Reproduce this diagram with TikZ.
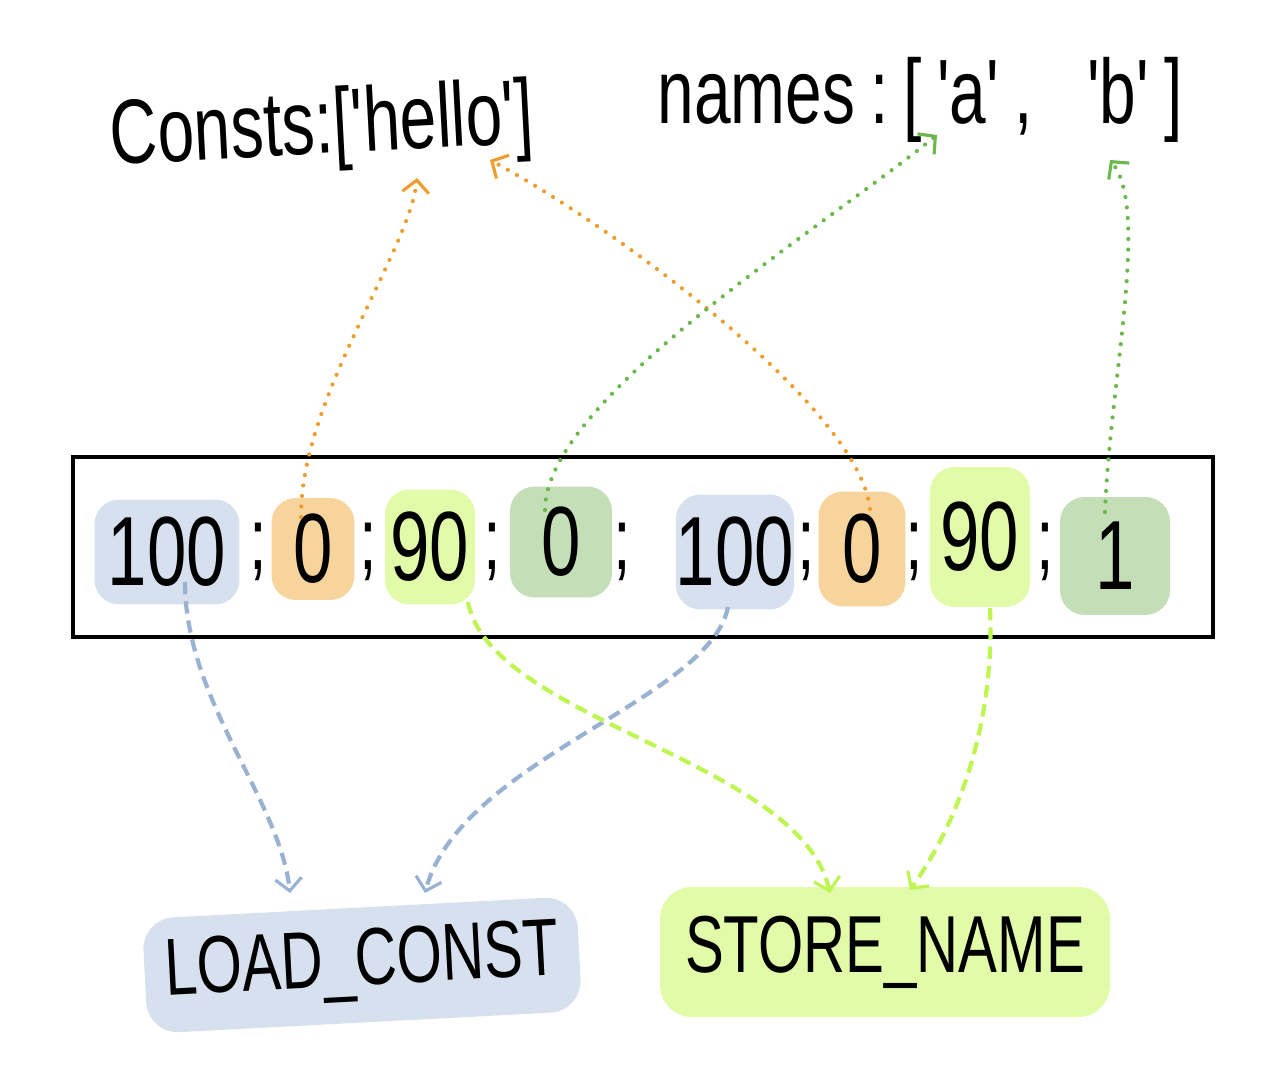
\documentclass[tikz,border=0pt]{standalone}
\usepackage{fontspec}
\newfontfamily\handfont[FakeStretch=0.72]{Liberation Sans}
\usetikzlibrary{arrows.meta,calc}

\definecolor{blobblue}{HTML}{D6E0EE}
\definecolor{bloborange}{HTML}{F6D49B}
\definecolor{bloblime}{HTML}{E1FBA9}
\definecolor{blobgreen}{HTML}{C4DFB8}
\definecolor{linkorange}{HTML}{EE9E2E}
\definecolor{linkgreen}{HTML}{6DB84C}
\definecolor{linkblue}{HTML}{9AB2D2}
\definecolor{linklime}{HTML}{BEF552}

\tikzset{
  blob/.style={rounded corners=14pt, inner sep=0pt, font=\handfont\fontsize{56}{60}\selectfont},
  semi/.style={inner sep=0pt, font=\handfont\fontsize{50}{54}\selectfont},
  opname/.style={rounded corners=18pt, inner sep=0pt, font=\handfont\fontsize{46}{50}\selectfont},
  toplabel/.style={inner sep=0pt, font=\handfont\fontsize{52}{56}\selectfont},
  dotlink/.style={draw=#1, line width=2.4pt, line cap=round, dash pattern=on 0pt off 6pt,
    -{Straight Barb[length=7pt,width=15pt,line width=1.8pt]}},
  dashlink/.style={draw=#1, line width=2.4pt, dash pattern=on 7pt off 4pt,
    -{Straight Barb[length=7pt,width=15pt,line width=1.8pt]}}
}

\begin{document}
\begin{tikzpicture}[x=0.02cm,y=-0.02cm]
    \useasboundingbox (0,0) rectangle (1276,1084);

    % constant and name tables
    \node[toplabel, rotate=3] (consts) at (322,130) {Consts:['hello']};
    \node[toplabel] (names) at (920,100) {names\,:\,[\,'a'\,,\ \ \ 'b'\,]};
    \coordinate (helloA) at (417,178);
    \coordinate (helloB) at (490,160);
    \coordinate (nameA) at (937,135);
    \coordinate (nameB) at (1110,160);

    % bytecode strip
    \node[draw, line width=2.5pt, minimum width=22.8cm, minimum height=3.6cm] (code) at (643,547) {};
    \node[blob, fill=blobblue, minimum width=2.9cm, minimum height=2.1cm] (b100a) at (167,552) {100};
    \node[blob, fill=bloborange, minimum width=1.66cm, minimum height=2.04cm] (o0a) at (313,549) {0};
    \node[blob, fill=bloblime, minimum width=1.8cm, minimum height=2.3cm] (g90a) at (430,547) {90};
    \node[blob, fill=blobgreen, minimum width=2.04cm, minimum height=2.22cm] (d0a) at (561,542) {0};
    \node[blob, fill=blobblue, minimum width=2.3cm, minimum height=2.3cm] (b100b) at (735,552) {100};
    \node[blob, fill=bloborange, minimum width=1.74cm, minimum height=2.3cm] (o0b) at (862,549) {0};
    \node[blob, fill=bloblime, minimum width=2.0cm, minimum height=2.8cm] (g90b) at (980,537) {90};
    \node[blob, fill=blobgreen, minimum width=2.2cm, minimum height=2.36cm] (d1) at (1115,556) {1};
    \foreach \x/\n in {258/1,368/2,492/3,622/4,806/5,914/6,1045/7}
        \node[semi] (semi\n) at (\x,552) {;};

    % opcodes
    \node[opname, fill=blobblue, rotate=3, minimum width=8.7cm, minimum height=2.3cm] (loadconst) at (362,965) {LOAD\_CONST};
    \node[opname, fill=bloblime, minimum width=9cm, minimum height=2.6cm] (storename) at (885,952) {STORE\_NAME};
    \coordinate (lcA) at (290,893);
    \coordinate (lcB) at (425,893);
    \coordinate (snA) at (830,893);
    \coordinate (snB) at (910,890);

    % arguments up to the tables
    \draw[dotlink=linkorange] ($(o0a)+(-12,-32)$) .. controls (300,400) and (410,250) .. (helloA);
    \draw[dotlink=linkorange] ($(o0b)+(8,-40)$) .. controls (860,410) and (620,230) .. (helloB);
    \draw[dotlink=linkgreen] ($(d0a)+(-16,-32)$) .. controls (545,400) and (820,230) .. (nameA);
    \draw[dotlink=linkgreen] ($(d1)+(-10,-44)$) .. controls (1110,380) and (1150,210) .. (nameB);

    % opcodes down to their names
    \draw[dashlink=linkblue] ($(b100a)+(18,30)$) .. controls (185,700) and (280,800) .. (lcA);
    \draw[dashlink=linkblue] ($(b100b)+(-7,55)$) .. controls (710,700) and (460,760) .. (lcB);
    \draw[dashlink=linklime] ($(g90a)+(38,55)$) .. controls (490,720) and (800,760) .. (snA);
    \draw[dashlink=linklime] ($(g90b)+(10,71)$) .. controls (995,720) and (960,820) .. (snB);
\end{tikzpicture}
\end{document}
